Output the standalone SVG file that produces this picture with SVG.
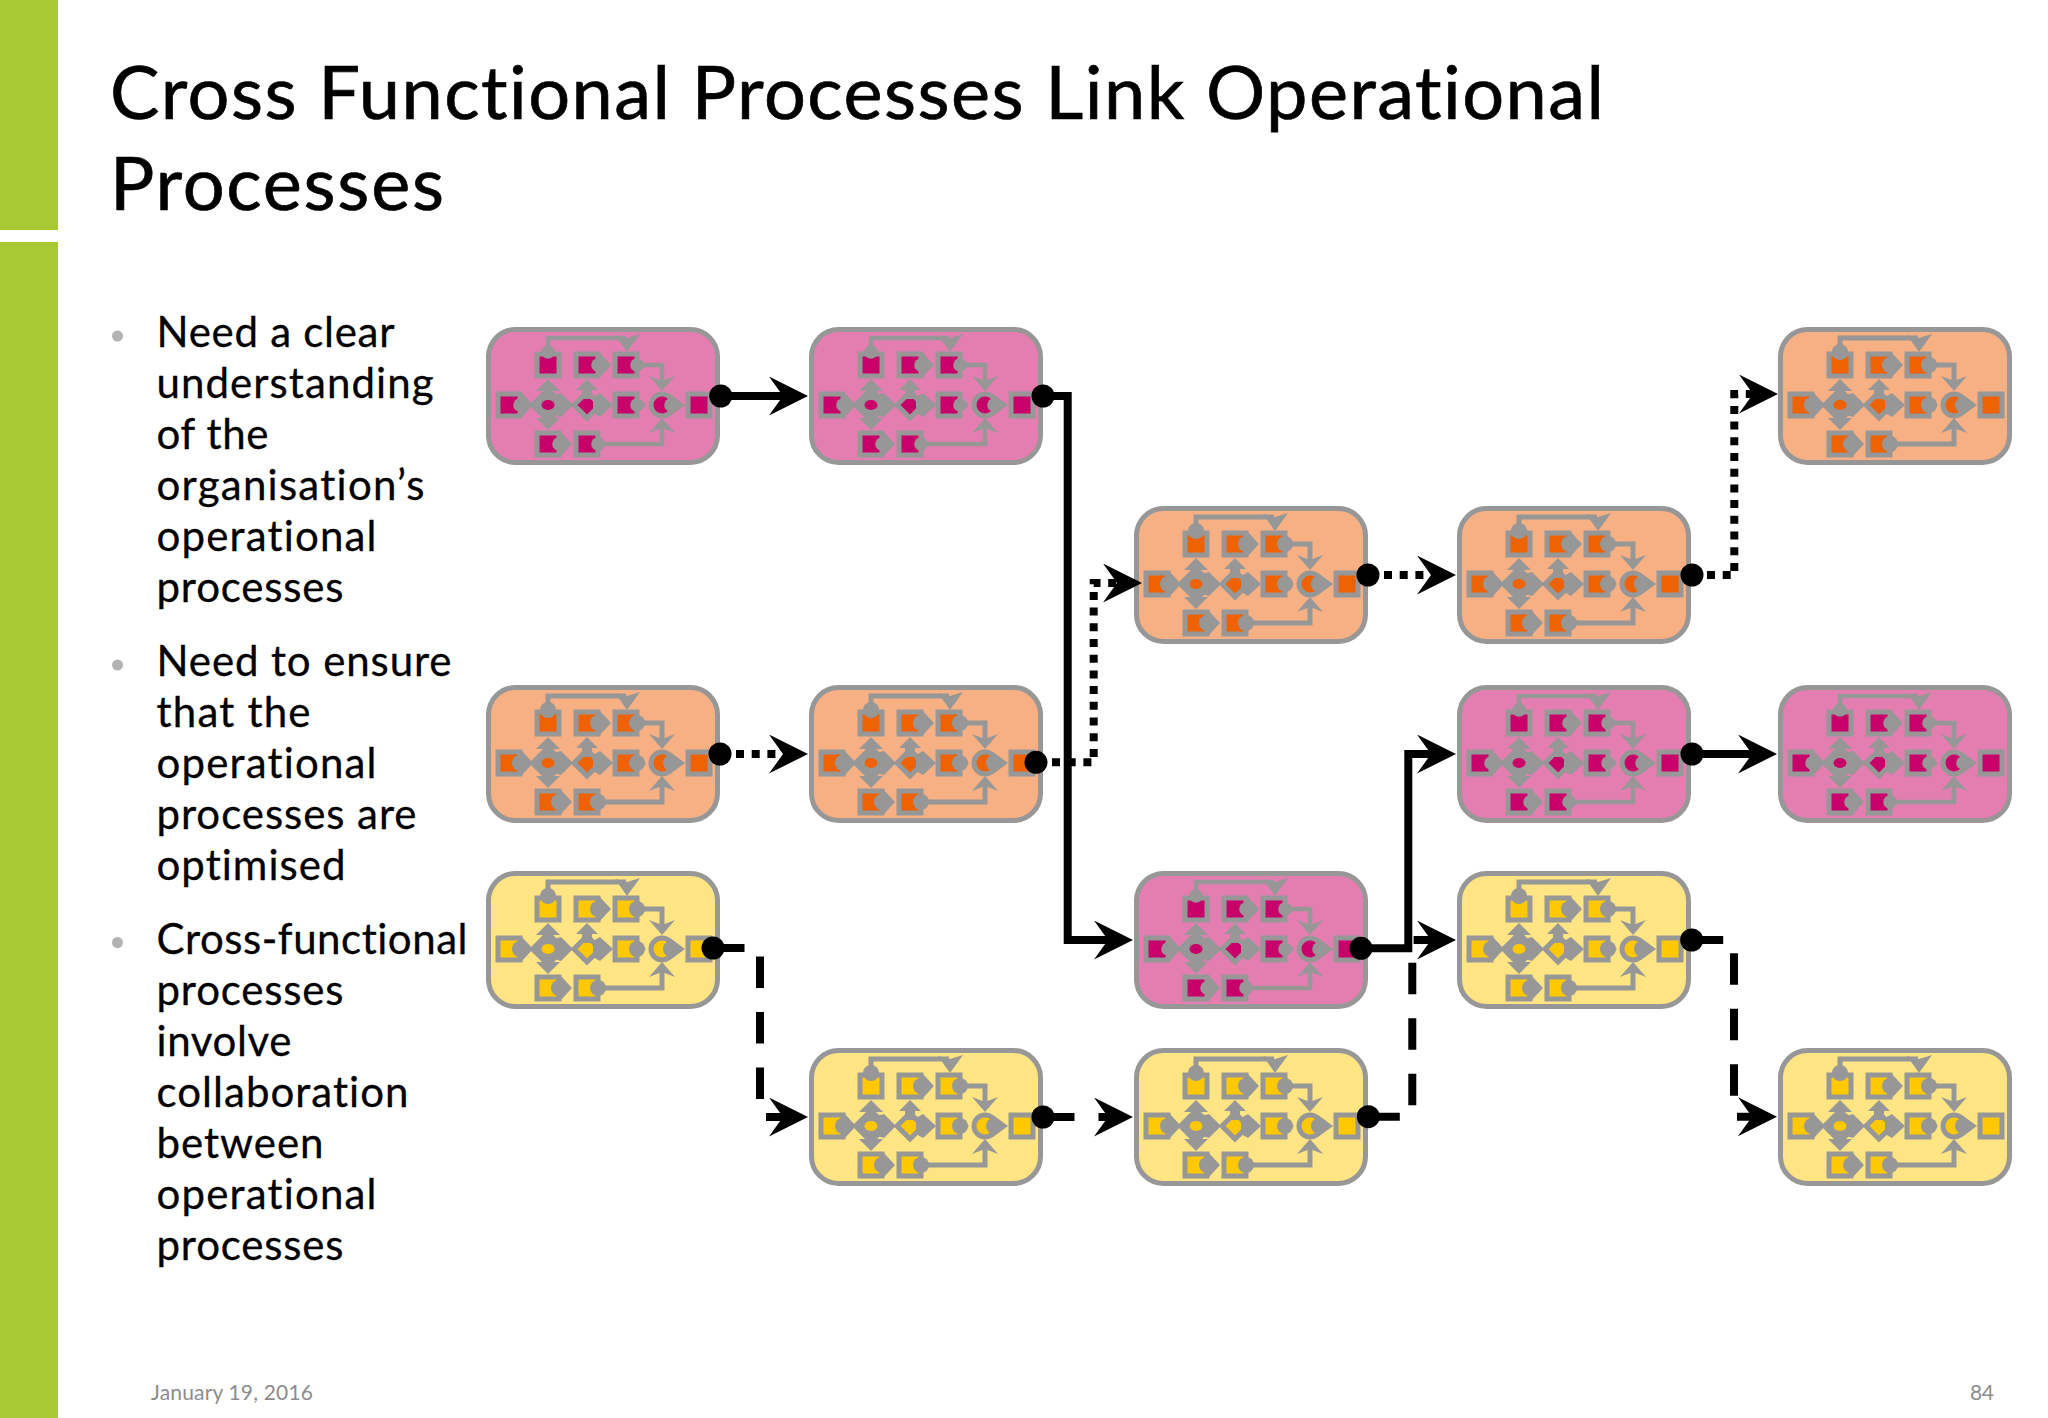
<svg xmlns="http://www.w3.org/2000/svg" width="2048" height="1418" viewBox="0 0 2048 1418">
<style>
text{font-family:"Lato","Liberation Sans",sans-serif;fill:#000;font-variant-ligatures:none}
.title{font-size:74px;stroke:#000;stroke-width:.7px}
.body{font-size:42px;stroke:#000;stroke-width:.3px}
.foot{font-size:21px;fill:#8c8c8c}
.bul{fill:#b3b3b3}
.pink{color:#c8006a;--p:#e57eb0;--w:4.5px;--pr:6.8px}
.orange{color:#ee6300;--p:#f6b084;--w:5px;--pr:8px}
.yellow{color:#ffc800;--p:#ffe483;--w:5px;--pr:8px}
.panel{fill:var(--p);stroke:#979797;stroke-width:5}
.g{fill:#979797}
.wire{fill:none;stroke:#979797;stroke-width:var(--w)}
.c{fill:currentColor;stroke:#979797;stroke-width:5}
.port{fill:#979797;r:var(--pr)}
.spot{fill:currentColor}
.conn{fill:none;stroke:#000;stroke-width:8;marker-end:url(#head)}
.dotted{stroke-dasharray:8 7.7}
.dashed{stroke-dasharray:31.5 24}
</style>
<defs>
<marker id="head" markerUnits="userSpaceOnUse" viewBox="0 0 39 39" markerWidth="39" markerHeight="39" refX="14" refY="19.5" orient="auto"><polygon points="0,0 39,19.5 0,39 14,19.5" fill="#000"/></marker>
<g id="sq"><rect class="c" x="-11" y="-11" width="22" height="22"/></g>
<g id="sp"><use href="#sq"/><polygon class="g" points="12,-13 24,0 12,13"/><circle class="port" cx="11" cy="0"/></g>
<g id="ss"><use href="#sq"/><polygon class="g" points="11,-8 20,0 11,8"/><circle class="port" cx="11" cy="0"/></g>
<g id="flow">
<rect class="panel" x="2.5" y="2.5" width="229" height="133" rx="27"/>
<path class="wire" d="M62 25V11H140"/><polygon class="g" points="129,8 141,11 154,7 141,25"/>
<path class="wire" d="M140 38H176V55"/><polygon class="g" points="163,49 176,54 189,49 176,64"/>
<path class="wire" d="M101 117H176V100"/><polygon class="g" points="163,106 176,101 189,106 176,91"/>
<use href="#sq" x="62" y="38"/><circle class="port" cx="62" cy="25"/>
<use href="#sp" x="101" y="38"/>
<use href="#ss" x="140" y="38"/>
<use href="#sp" x="23" y="78"/>
<polygon class="g" points="62,59 81,78 62,97 43,78"/>
<polygon class="g" points="62,52 74,64 50,64"/>
<polygon class="g" points="62,103 74,91 50,91"/>
<polygon class="g" points="68,68 75,66 87,78 75,90 68,88"/>
<ellipse class="spot" cx="62" cy="78" rx="6.5" ry="5"/>
<polygon class="c" points="101,65 114,78 101,91 88,78"/>
<polygon class="g" points="101,52 112,63 106,63 106,72 96,72 96,63 90,63"/>
<polygon class="g" points="107,70 114,66 127,78 114,90 107,86"/>
<use href="#ss" x="140" y="78"/>
<circle class="c" cx="176" cy="78" r="11"/><polygon class="g" points="184,67 199,78 184,89"/><circle class="port" cx="185" cy="78"/>
<use href="#sq" x="213" y="78"/>
<use href="#sp" x="62" y="117"/>
<use href="#ss" x="101" y="117"/>
</g>
<circle id="dot" r="11.5" fill="#000"/>
</defs>
<rect width="2048" height="1418" fill="#fff"/>
<g id="sidebar"><rect width="58" height="230" fill="#a8c934"/><rect y="242" width="58" height="1176" fill="#a8c934"/></g>
<g id="heading">
<text class="title" x="110" y="119" textLength="1494">Cross Functional Processes Link Operational</text>
<text class="title" x="110" y="210" textLength="334">Processes</text>
</g>
<g id="bullets">
<circle class="bul" cx="117.5" cy="336" r="5.5"/><circle class="bul" cx="117.5" cy="665" r="5.5"/><circle class="bul" cx="117.5" cy="942.5" r="5.5"/>
<text class="body" x="156.5" y="347" textLength="238">Need a clear</text>
<text class="body" x="156.5" y="398" textLength="277">understanding</text>
<text class="body" x="156.5" y="449" textLength="112">of the</text>
<text class="body" x="156.5" y="500" textLength="268">organisation’s</text>
<text class="body" x="156.5" y="551" textLength="220">operational</text>
<text class="body" x="156.5" y="602" textLength="187">processes</text>
<text class="body" x="156.5" y="676" textLength="295">Need to ensure</text>
<text class="body" x="156.5" y="727" textLength="154">that the</text>
<text class="body" x="156.5" y="778" textLength="220">operational</text>
<text class="body" x="156.5" y="829" textLength="260">processes are</text>
<text class="body" x="156.5" y="880" textLength="189">optimised</text>
<text class="body" x="156.5" y="954" textLength="311">Cross-functional</text>
<text class="body" x="156.5" y="1005" textLength="187">processes</text>
<text class="body" x="156.5" y="1056" textLength="135">involve</text>
<text class="body" x="156.5" y="1107" textLength="252">collaboration</text>
<text class="body" x="156.5" y="1158" textLength="167">between</text>
<text class="body" x="156.5" y="1209" textLength="220">operational</text>
<text class="body" x="156.5" y="1260" textLength="187">processes</text>
</g>
<g id="footer">
<text class="foot" x="151" y="1400" textLength="162">January 19, 2016</text>
<text class="foot" x="1970" y="1400" textLength="24">84</text>
</g>
<g id="n1" class="pink"><use href="#flow" x="486" y="327"/></g>
<g id="n2" class="pink"><use href="#flow" x="809" y="327"/></g>
<g id="n3" class="orange"><use href="#flow" x="1778" y="327"/></g>
<g id="n4" class="orange"><use href="#flow" x="1134" y="506"/></g>
<g id="n5" class="orange"><use href="#flow" x="1457" y="506"/></g>
<g id="n6" class="orange"><use href="#flow" x="486" y="685"/></g>
<g id="n7" class="orange"><use href="#flow" x="809" y="685"/></g>
<g id="n8" class="pink"><use href="#flow" x="1457" y="685"/></g>
<g id="n9" class="pink"><use href="#flow" x="1778" y="685"/></g>
<g id="n10" class="yellow"><use href="#flow" x="486" y="871"/></g>
<g id="n11" class="pink"><use href="#flow" x="1134" y="871"/></g>
<g id="n12" class="yellow"><use href="#flow" x="1457" y="871"/></g>
<g id="n13" class="yellow"><use href="#flow" x="809" y="1048"/></g>
<g id="n14" class="yellow"><use href="#flow" x="1134" y="1048"/></g>
<g id="n15" class="yellow"><use href="#flow" x="1778" y="1048"/></g>
<g id="connectors">
<path class="conn" d="M720.7 396H783"/><use href="#dot" x="720.7" y="396"/>
<path class="conn" d="M1043 396H1067.7V940H1108"/><use href="#dot" x="1043" y="396"/>
<path class="conn dotted" d="M736 754H783"/><use href="#dot" x="720" y="754"/>
<path class="conn dotted" d="M1052 762.3H1093.7V583H1117"/><use href="#dot" x="1036" y="762.3"/>
<path class="conn dotted" d="M1384 575H1431"/><use href="#dot" x="1368" y="575"/>
<path class="conn dotted" d="M1707 575H1734.3V394H1753"/><use href="#dot" x="1692" y="575"/>
<path class="conn" d="M1361 948.3H1408.3V754H1431"/><use href="#dot" x="1361" y="948.3"/>
<path class="conn" d="M1692 754H1752"/><use href="#dot" x="1692" y="754"/>
<path class="conn dashed" d="M713 948H760V1117H783"/><use href="#dot" x="713" y="948"/>
<path class="conn dashed" d="M1043 1117H1108"/><use href="#dot" x="1043" y="1117"/>
<path class="conn dashed" d="M1368.3 1116.7H1412.3V940H1431"/><use href="#dot" x="1368.3" y="1116.7"/>
<path class="conn dashed" d="M1691.7 940H1734V1116.7H1752"/><use href="#dot" x="1691.7" y="940"/>
</g>
</svg>
